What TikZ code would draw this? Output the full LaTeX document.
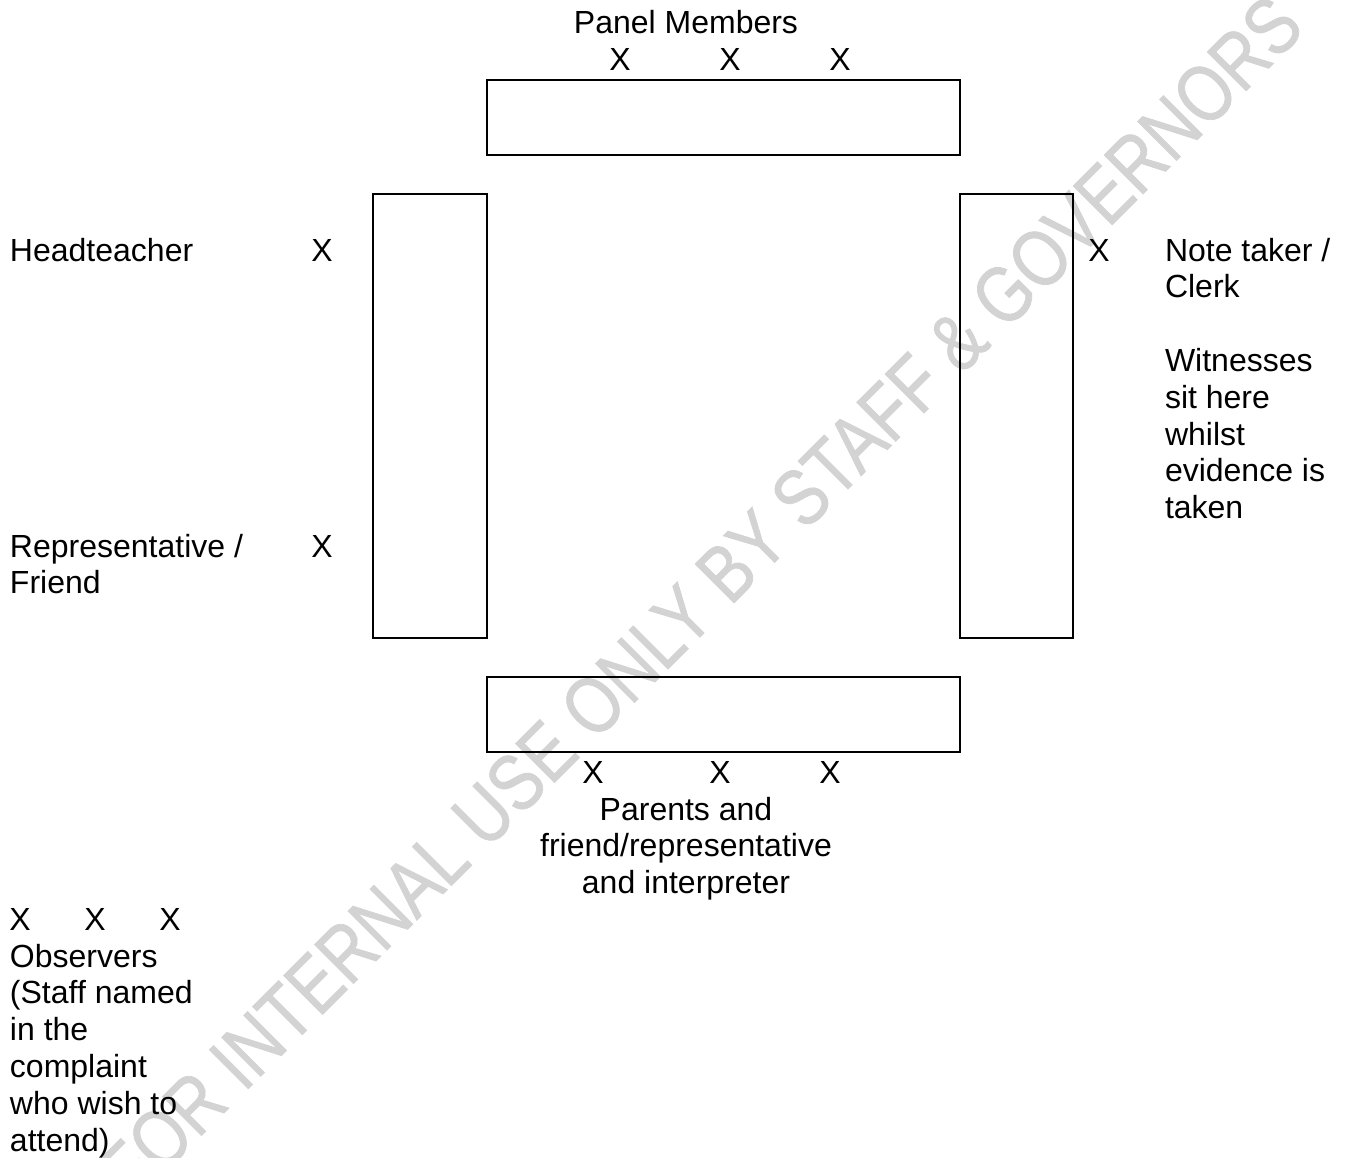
\documentclass[tikz,border=0pt]{standalone}
\usepackage{fontspec}
\setmainfont{Liberation Sans}
\newfontfamily\wmfont{Liberation Sans}[FakeBold=1]
\definecolor{wmgray}{RGB}{211,211,211}
\tikzset{
  tbl/.style={draw=black, line width=1pt},
  lbl/.style={inner sep=0pt, outer sep=0pt, font=\fontsize{16}{18.4}\selectfont},
  seat/.style={lbl, anchor=base},
  wm/.style={inner sep=0pt, text=wmgray, font=\wmfont\fontsize{40}{44}\selectfont, rotate=45, anchor=base}
}
\begin{document}
\begin{tikzpicture}[x=0.5pt,y=-0.5pt]
\useasboundingbox (0,0) rectangle (1349,1157);
\clip (0,0) rectangle (1349,1157);
\fill[white] (0,0) rectangle (1349,1157);
% watermark
\node[wm] (watermark) at (720,617) {\scalebox{0.82}[1]{FOR INTERNAL USE ONLY BY STAFF \& GOVERNORS}};
% tables
\draw[tbl] (487,80) rectangle (960,155);
\draw[tbl] (373,194) rectangle (487,638);
\draw[tbl] (960,194) rectangle (1073,638);
\draw[tbl] (487,677) rectangle (960,752);
% panel
\node[seat] (panel) at (686,33) {Panel Members};
\node[seat] (p1) at (620,70) {X};
\node[seat] (p2) at (730,70) {X};
\node[seat] (p3) at (840,70) {X};
% left side
\node[lbl, anchor=base west] (head) at (10,261) {Headteacher};
\node[seat] (hx) at (322,261) {X};
\node[lbl, anchor=base west] (rep) at (10,557) {\begin{tabular}[t]{@{}l@{}}Representative /\\Friend\end{tabular}};
\node[seat] (rx) at (322,557) {X};
% right side
\node[seat] (cx) at (1099,261) {X};
\node[lbl, anchor=base west] (clerk) at (1165,261) {\begin{tabular}[t]{@{}l@{}}Note taker /\\Clerk\\ \\Witnesses\\sit here\\whilst\\evidence is\\taken\end{tabular}};
% bottom
\node[seat] (b1) at (593,783) {X};
\node[seat] (b2) at (720,783) {X};
\node[seat] (b3) at (830,783) {X};
\node[lbl, anchor=base] (parents) at (686,820) {\begin{tabular}[t]{@{}c@{}}Parents and\\friend/representative\\and interpreter\end{tabular}};
% observers
\node[seat] (o1) at (20,930) {X};
\node[seat] (o2) at (95,930) {X};
\node[seat] (o3) at (170,930) {X};
\node[lbl, anchor=base west] (obs) at (10,967) {\begin{tabular}[t]{@{}l@{}}Observers\\(Staff named\\in the\\complaint\\who wish to\\attend)\end{tabular}};
\end{tikzpicture}
\end{document}
